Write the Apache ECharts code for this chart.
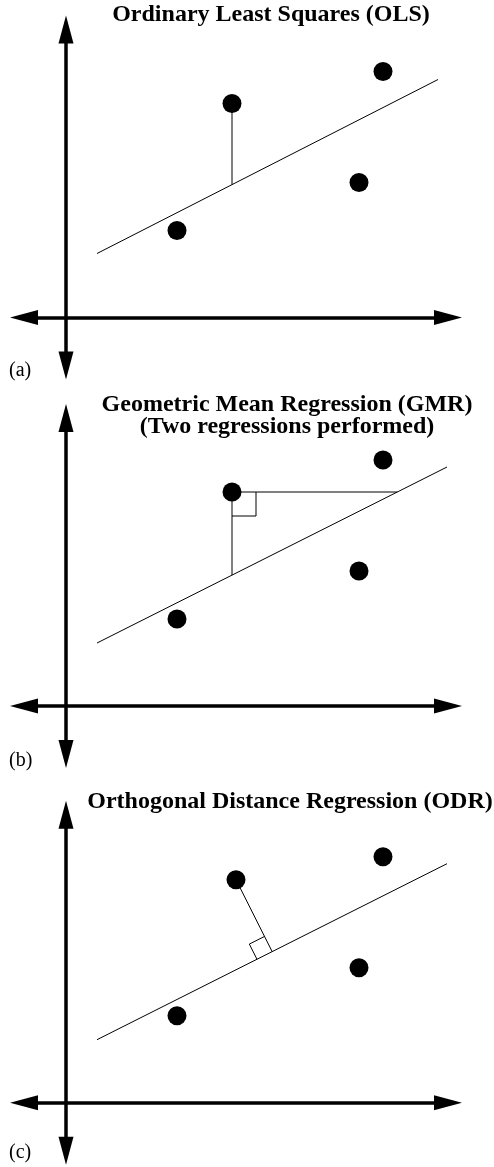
<!DOCTYPE html>
<html>
<head>
<meta charset="utf-8">
<script src="https://cdn.jsdelivr.net/npm/echarts@6/dist/echarts.min.js"></script>
<style>
  html, body { margin: 0; padding: 0; background: #fff; }
  #chart { width: 494px; height: 1167px; }
</style>
</head>
<body>
<div id="chart"></div>
<script>
// Panel headings and tags
const panelTitles = [
  'Ordinary Least Squares (OLS)',
  'Geometric Mean Regression (GMR)\n(Two regressions performed)',
  'Orthogonal Distance Regression (ODR)'
];
const panelTags = ['(a)', '(b)', '(c)'];

// Sample points (x, y) for each panel
const olsPoints = [[111, 87], [166, 214], [293, 135], [317, 246]];
const gmrPoints = [[111, 87], [166, 214], [293, 135], [317, 246]];
const odrPoints = [[111, 87], [170, 223], [293, 135], [317, 246]];

// Fitted line end points for each panel
const olsLine = [[31, 64], [372, 238]];
const gmrLine = [[31, 63], [381, 239]];
const odrLine = [[31, 63], [381, 239]];

// Index of the point whose residual is illustrated
const focusIndex = 1;

// Axis extents (data units), shared by all panels
const xRange = [-42, 382];
const yRange = [-48, 288];

// ---- geometry helpers ----
function lineYAt(line, x) {
  const [a, b] = line;
  return a[1] + (x - a[0]) * (b[1] - a[1]) / (b[0] - a[0]);
}
function lineXAt(line, y) {
  const [a, b] = line;
  return a[0] + (y - a[1]) * (b[0] - a[0]) / (b[1] - a[1]);
}
function footOnLine(line, p) {
  const [a, b] = line;
  const dx = b[0] - a[0], dy = b[1] - a[1];
  const len = Math.hypot(dx, dy);
  const ux = dx / len, uy = dy / len;
  const t = (p[0] - a[0]) * ux + (p[1] - a[1]) * uy;
  return { foot: [a[0] + t * ux, a[1] + t * uy], u: [ux, uy] };
}

// ---- layout ----
const originY = [317.5, 706, 1102.7];   // pixel row of each panel's x-axis
const gridLeft = 24;

const grids = [], xAxes = [], yAxes = [], series = [];
const thin = { color: '#000', width: 1 };

originY.forEach((oy, i) => {
  grids.push({
    left: gridLeft,
    top: oy - yRange[1],
    width: xRange[1] - xRange[0],
    height: yRange[1] - yRange[0],
    containLabel: false
  });
  const axisLine = {
    show: true,
    onZero: true,
    symbol: ['triangle', 'triangle'],
    symbolSize: [15, 28],
    lineStyle: { color: '#000', width: 3.5 }
  };
  xAxes.push({
    gridIndex: i, type: 'value', min: xRange[0], max: xRange[1],
    axisLine, axisTick: { show: false }, axisLabel: { show: false },
    splitLine: { show: false }
  });
  yAxes.push({
    gridIndex: i, type: 'value', min: yRange[0], max: yRange[1],
    axisLine, axisTick: { show: false }, axisLabel: { show: false },
    splitLine: { show: false }
  });
});

function seg(i, data) {
  series.push({
    type: 'line', xAxisIndex: i, yAxisIndex: i, data,
    symbol: 'none', lineStyle: thin, silent: true, z: 3
  });
}
function dots(i, data) {
  series.push({
    type: 'scatter', xAxisIndex: i, yAxisIndex: i, data,
    symbol: 'circle', symbolSize: 19,
    itemStyle: { color: '#000', opacity: 1 }, z: 5
  });
}

// (a) OLS: vertical residual
seg(0, olsLine);
{
  const p = olsPoints[focusIndex];
  seg(0, [p, [p[0], lineYAt(olsLine, p[0])]]);
}
dots(0, olsPoints);

// (b) GMR: vertical and horizontal residuals with right-angle mark
seg(1, gmrLine);
{
  const p = gmrPoints[focusIndex];
  const s = 24;
  seg(1, [p, [p[0], lineYAt(gmrLine, p[0])]]);
  seg(1, [p, [lineXAt(gmrLine, p[1]), p[1]]]);
  seg(1, [[p[0], p[1] - s], [p[0] + s, p[1] - s], [p[0] + s, p[1]]]);
}
dots(1, gmrPoints);

// (c) ODR: perpendicular residual with right-angle mark
seg(2, odrLine);
{
  const p = odrPoints[focusIndex];
  const { foot, u } = footOnLine(odrLine, p);
  const nLen = Math.hypot(p[0] - foot[0], p[1] - foot[1]);
  const n = [(p[0] - foot[0]) / nLen, (p[1] - foot[1]) / nLen];
  const s = 17;
  seg(2, [p, foot]);
  const q1 = [foot[0] - s * u[0], foot[1] - s * u[1]];
  const q2 = [q1[0] + s * n[0], q1[1] + s * n[1]];
  const q3 = [foot[0] + s * n[0], foot[1] + s * n[1]];
  seg(2, [q1, q2, q3]);
}
dots(2, odrPoints);

// ---- text ----
const serif = 'Liberation Serif, Times New Roman, serif';
const titleTops = [4, 394, 791];
const titleCenters = [271, 287, 290];
const tagTops = [361, 751, 1143];

const titles = [];
panelTitles.forEach((t, i) => {
  titles.push({
    text: t,
    left: titleCenters[i],
    top: titleTops[i],
    textAlign: 'center',
    padding: 0,
    textStyle: {
      fontFamily: serif, fontWeight: 'bold', fontSize: 24,
      lineHeight: 22, color: '#000'
    }
  });
});
panelTags.forEach((t, i) => {
  titles.push({
    text: t,
    left: 9,
    top: tagTops[i],
    padding: 0,
    textStyle: {
      fontFamily: serif, fontWeight: 'normal', fontSize: 20,
      lineHeight: 20, color: '#000'
    }
  });
});

const chart = echarts.init(document.getElementById('chart'), null, { renderer: 'canvas' });
chart.setOption({
  animation: false,
  backgroundColor: '#fff',
  title: titles,
  grid: grids,
  xAxis: xAxes,
  yAxis: yAxes,
  series
});
</script>
</body>
</html>
